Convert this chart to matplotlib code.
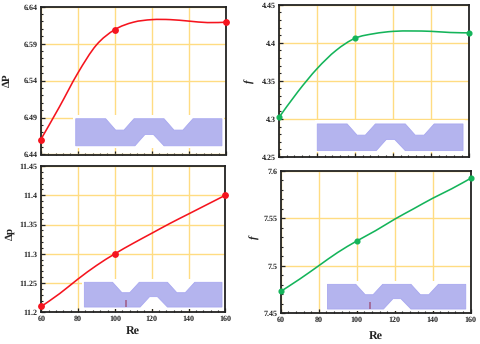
import matplotlib
matplotlib.use("Agg")
import matplotlib.pyplot as plt
from matplotlib.patches import Polygon, Rectangle, PathPatch
from matplotlib.path import Path
from matplotlib.ticker import MultipleLocator, FixedLocator

plt.rcParams['font.family'] = ['Liberation Serif', 'DejaVu Serif']
plt.rcParams['text.hinting'] = 'none'
plt.rcParams['text.hinting_factor'] = 1

W, H = 480, 344
RED = '#f5141e'
GREEN = '#14b45a'

re_key = [60, 100, 160]
re_read = [60, 70, 80, 90, 100, 110, 120, 130, 140, 150, 160]

dp_top_curve = [6.460, 6.504, 6.550, 6.588, 6.609, 6.619, 6.6225, 6.6225, 6.6205, 6.6185, 6.619]
dp_top_key = [6.460, 6.609, 6.619]
f_top_curve = [4.302, 4.336, 4.366, 4.390, 4.406, 4.412, 4.415, 4.4155, 4.415, 4.4135, 4.413]
f_top_key = [4.302, 4.406, 4.413]
dp_bot_curve = [11.21, 11.232, 11.257, 11.28, 11.30, 11.318, 11.335, 11.352, 11.368, 11.384, 11.40]
dp_bot_key = [11.21, 11.30, 11.40]
f_bot_curve = [7.473, 7.486, 7.50, 7.514, 7.526, 7.537, 7.549, 7.56, 7.571, 7.581, 7.592]
f_bot_key = [7.473, 7.526, 7.592]

channel_outline = [(0, 1), (.205, 1), (.273, .58), (.330, .58), (.399, 1), (.604, 1), (.672, .58), (.733, .58),
                   (.802, 1), (1, 1), (1, 0), (.604, 0), (.531, .42), (.474, .42), (.405, 0), (0, 0)]

panels = [
    dict(px=(40.7, 226, 6.7, 154.5), y=dp_top_curve, ky=dp_top_key, c=RED, ms=3.9,
         ylim=(6.44, 6.64), yt=[6.44, 6.49, 6.54, 6.59, 6.64], yl=['6.44', '6.49', '6.54', '6.59', '6.64'],
         ylabel='ΔP', ital=False, box=(.189, .978, .059, .242), re=None, mark=False, yl_pos=(7.5, 80)),
    dict(px=(279, 469.3, 4.7, 157), y=f_top_curve, ky=f_top_key, c=GREEN, ms=3.4,
         ylim=(4.25, 4.45), yt=[4.25, 4.3, 4.35, 4.4, 4.45], yl=['4.25', '4.3', '4.35', '4.4', '4.45'],
         ylabel='f', ital=True, box=(.201, .967, .042, .217), re=None, mark=False, yl_pos=(249.5, 81)),
    dict(px=(41.3, 225.3, 166, 312.3), y=dp_bot_curve, ky=dp_bot_key, c=RED, ms=3.9,
         ylim=(11.2, 11.45), yt=[11.2, 11.25, 11.3, 11.35, 11.4, 11.45], yl=['11.2', '11.25', '11.3', '11.35', '11.4', '11.45'],
         ylabel='Δp', ital=False, box=(.234, .982, .036, .205), re=(133, 331), mark=True, yl_pos=(10, 233)),
    dict(px=(280.7, 470.7, 170.7, 313.3), y=f_bot_curve, ky=f_bot_key, c=GREEN, ms=3.4,
         ylim=(7.45, 7.6), yt=[7.45, 7.5, 7.55, 7.6], yl=['7.45', '7.5', '7.55', '7.6'],
         ylabel='f', ital=True, box=(.246, .974, .030, .203), re=(376, 336), mark=True, yl_pos=(255, 237)),
]


def smooth_path(xs, ys):
    verts = [(xs[0], ys[0])]
    codes = [Path.MOVETO]
    n = len(xs)
    for i in range(n - 1):
        a, b = max(i - 1, 0), min(i + 2, n - 1)
        verts.append((xs[i] + (xs[i + 1] - xs[a]) / 6, ys[i] + (ys[i + 1] - ys[a]) / 6))
        verts.append((xs[i + 1] - (xs[b] - xs[i]) / 6, ys[i + 1] - (ys[b] - ys[i]) / 6))
        verts.append((xs[i + 1], ys[i + 1]))
        codes += [Path.CURVE4] * 3
    return Path(verts, codes)


fig = plt.figure(figsize=(W / 100, H / 100), dpi=100)

for p in panels:
    l, r, t, b = p['px']
    ax = fig.add_axes([l / W, 1 - b / H, (r - l) / W, (b - t) / H])
    ax.set_xlim(60, 160)
    ax.set_ylim(*p['ylim'])
    ax.xaxis.set_major_locator(FixedLocator([60, 80, 100, 120, 140, 160]))
    ax.xaxis.set_minor_locator(MultipleLocator(4))
    ax.yaxis.set_major_locator(FixedLocator(p['yt']))
    ax.yaxis.set_minor_locator(MultipleLocator(0.01))
    ax.set_yticklabels(p['yl'])
    ax.grid(True, which='major', color='#ffdc82', lw=1.0, zorder=1)
    ax.set_axisbelow(True)
    ax.tick_params(which='major', direction='in', length=2.6, width=0.9, top=False, right=False,
                   labelsize=6.0, pad=2.5, colors='#222222')
    ax.tick_params(which='minor', direction='in', length=1.5, width=0.8, top=False, right=False, colors='#222222')
    for lab in ax.get_xticklabels() + ax.get_yticklabels():
        lab.set_fontweight('bold')
    if p['re'] is None:
        ax.tick_params(axis='x', labelbottom=False)
    else:
        fig.text(p['re'][0] / W, 1 - p['re'][1] / H, 'Re', fontsize=8.5, fontweight='bold',
                 ha='center', va='center', color='#222222')
    fig.text(p['yl_pos'][0] / W, 1 - p['yl_pos'][1] / H, p['ylabel'], fontsize=8, fontweight='bold',
             style='italic' if p['ital'] else 'normal', rotation=90, ha='center', va='center', color='#222222')
    for s in ax.spines.values():
        s.set_linewidth(1.3)
        s.set_color('#222222')

    x0, x1, y0, y1 = p['box']
    pad = 0.012
    ax.add_patch(Rectangle((x0 - pad, y0 - pad), x1 - x0 + 2 * pad, y1 - y0 + 3 * pad, transform=ax.transAxes,
                           fc='white', ec='none', zorder=2))
    verts = [(x0 + u * (x1 - x0), y0 + v * (y1 - y0)) for u, v in channel_outline]
    ax.add_patch(Polygon(verts, closed=True, transform=ax.transAxes, fc='#b4b4ee', ec='#a8a8f0', lw=0.6, zorder=3))
    if p['mark']:
        ax.plot([x0 + .305 * (x1 - x0)] * 2, [y0, y0 + .3 * (y1 - y0)], transform=ax.transAxes,
                color='#a0608c', lw=1.2, solid_capstyle='butt', zorder=4)

    ax.add_patch(PathPatch(smooth_path(re_read, p['y']), fc='none', ec=p['c'], lw=1.15, zorder=5, clip_on=False))
    ax.plot(re_key, p['ky'], ls='none', marker='o', ms=p['ms'], color=p['c'], mec=p['c'], zorder=6, clip_on=False)

fig.savefig('out.png', dpi=100)
